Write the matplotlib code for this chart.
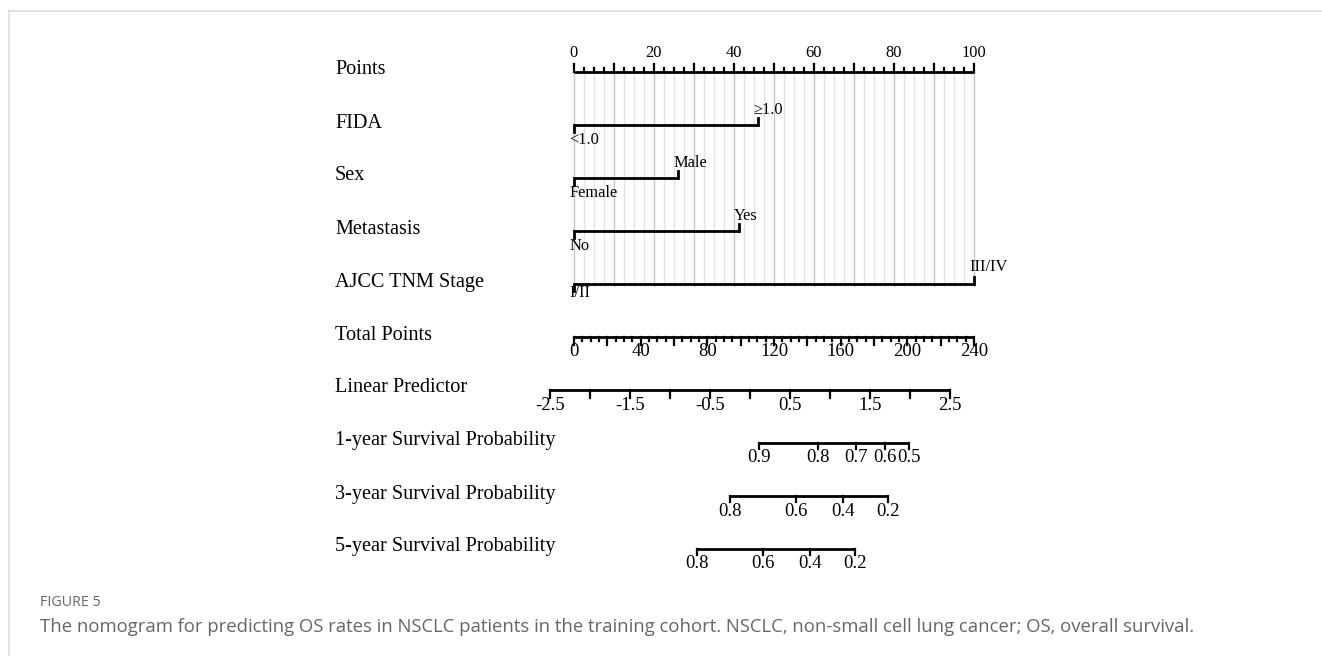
import matplotlib
matplotlib.use("Agg")
import matplotlib.pyplot as plt
from matplotlib.lines import Line2D

# nomogram content
row_names = ["Points", "FIDA", "Sex", "Metastasis", "AJCC TNM Stage", "Total Points",
             "Linear Predictor", "1-year Survival Probability",
             "3-year Survival Probability", "5-year Survival Probability"]

# predictor levels and their points
fida_levels = ["<1.0", "\u22651.0"]
fida_points = [0, 46]
sex_levels = ["Female", "Male"]
sex_points = [0, 26]
meta_levels = ["No", "Yes"]
meta_points = [0, 41.2]
stage_levels = ["I/II", "III/IV"]
stage_points = [0, 100]

# total points axis
total_max = 240
total_labels = [0, 40, 80, 120, 160, 200, 240]

# linear predictor axis (value at total points = 0 is -2.2)
lp_at_zero = -2.2
lp_per_total = 5.0 / 240
lp_ticks = [-2.5, -2, -1.5, -1, -0.5, 0, 0.5, 1, 1.5, 2, 2.5]
lp_labels = [-2.5, -1.5, -0.5, 0.5, 1.5, 2.5]

# survival probabilities and their linear predictor positions
surv1_probs = ["0.9", "0.8", "0.7", "0.6", "0.5"]
surv1_lp = [0.11, 0.85, 1.33, 1.69, 1.99]
surv3_probs = ["0.8", "0.6", "0.4", "0.2"]
surv3_lp = [-0.25, 0.575, 1.16, 1.725]
surv5_probs = ["0.8", "0.6", "0.4", "0.2"]
surv5_lp = [-0.66, 0.16, 0.75, 1.31]

W, H = 1322, 656
fig = plt.figure(figsize=(W / 100, H / 100), dpi=100)
ax = fig.add_axes([0, 0, 1, 1])
ax.set_xlim(-574 / 4, (W - 574) / 4)
ax.set_ylim((H - 72) / 53.0, -72 / 53.0)
ax.axis("off")

px = 1 / 53.0   # one pixel in row units
pxx = 0.25      # one pixel in point units
serif = "Liberation Serif"
lab_fs = 14.6
tick_fs = 11.8
low_fs = 13.5
k = "black"


def lp_to_pts(v):
    return (v - lp_at_zero) / lp_per_total * 100 / total_max


# row names
for i, name in enumerate(row_names):
    ax.text(-59.75, i - 2 * px, name, fontsize=lab_fs, family=serif, va="center", ha="left")

# grid lines
grid = [g * 2.5 for g in range(41)]
for g in grid:
    col = "#c9c9c9" if g % 10 == 0 else "#e4e4e4"
    ax.plot([g, g], [0, 4 + 2 * px], color=col, lw=1.0, zorder=0)

# points axis
ax.plot([0, 100], [0, 0], color=k, lw=2.0, solid_capstyle="butt")
for t in grid:
    ln = 8 if t % 10 == 0 else 4
    ax.plot([t, t], [0, -ln * px], color=k, lw=1.6)
for t in range(0, 101, 20):
    ax.text(t, -19 * px, str(t), fontsize=tick_fs, family=serif, ha="center", va="center")

# predictors
predictors = [(fida_levels, fida_points), (sex_levels, sex_points),
              (meta_levels, meta_points), (stage_levels, stage_points)]
for r, (levels, pts) in enumerate(predictors, start=1):
    ax.plot([pts[0], pts[1]], [r, r], color=k, lw=2.0, solid_capstyle="butt")
    ax.plot([pts[0], pts[0]], [r, r + 7 * px], color=k, lw=2.0)
    ax.plot([pts[1], pts[1]], [r, r - 7 * px], color=k, lw=2.0)
    below = 9 if r == 4 else 15
    above = 17 if r == 4 else 15
    ax.text(pts[0] - 5 * pxx, r + below * px, levels[0], fontsize=tick_fs, family=serif,
            ha="left", va="center")
    ax.text(pts[1] - 5 * pxx, r - above * px, levels[1], fontsize=tick_fs, family=serif,
            ha="left", va="center")

# total points
r = 5
sc = 100 / total_max
ax.plot([0, 100], [r, r], color=k, lw=2.0, solid_capstyle="butt")
for t in range(0, total_max + 1, 5):
    ln = 8 if t % 20 == 0 else 4
    ax.plot([t * sc, t * sc], [r, r + ln * px], color=k, lw=1.6)
for t in total_labels:
    ax.text(t * sc, r + 15 * px, str(t), fontsize=low_fs, family=serif, ha="center", va="center")

# linear predictor
r = 6
ax.plot([lp_to_pts(lp_ticks[0]), lp_to_pts(lp_ticks[-1])], [r, r], color=k, lw=2.0,
        solid_capstyle="butt")
for t in lp_ticks:
    ax.plot([lp_to_pts(t)] * 2, [r, r + 8 * px], color=k, lw=1.6)
for t in lp_labels:
    ax.text(lp_to_pts(t), r + 15 * px, f"{t:g}", fontsize=low_fs, family=serif,
            ha="center", va="center")

# survival axes
for r, probs, lps in [(7, surv1_probs, surv1_lp), (8, surv3_probs, surv3_lp),
                      (9, surv5_probs, surv5_lp)]:
    xs = [lp_to_pts(v) for v in lps]
    ax.plot([xs[0], xs[-1]], [r, r], color=k, lw=2.0, solid_capstyle="butt")
    for x, p in zip(xs, probs):
        ax.plot([x, x], [r, r + 6 * px], color=k, lw=1.6)
        ax.text(x, r + 15 * px, p, fontsize=low_fs, family=serif, ha="center", va="center")

# page frame and caption
fig.add_artist(Line2D([9 / W, 1], [1 - 11 / H, 1 - 11 / H], color="#dcdcdc", lw=1.2,
                      transform=fig.transFigure))
fig.add_artist(Line2D([9 / W, 9 / W], [0, 1 - 11 / H], color="#dcdcdc", lw=1.2,
                      transform=fig.transFigure))
fig.text(40 / W, 1 - 603 / H, "FIGURE 5", fontsize=10.3, family="Open Sans", color="#666666",
         va="center", ha="left")
fig.text(40 / W, 1 - 627 / H,
         "The nomogram for predicting OS rates in NSCLC patients in the training cohort. "
         "NSCLC, non-small cell lung cancer; OS, overall survival.",
         fontsize=13.3, family="Open Sans", color="#666666", va="center", ha="left")

fig.savefig("out.png", dpi=100)
